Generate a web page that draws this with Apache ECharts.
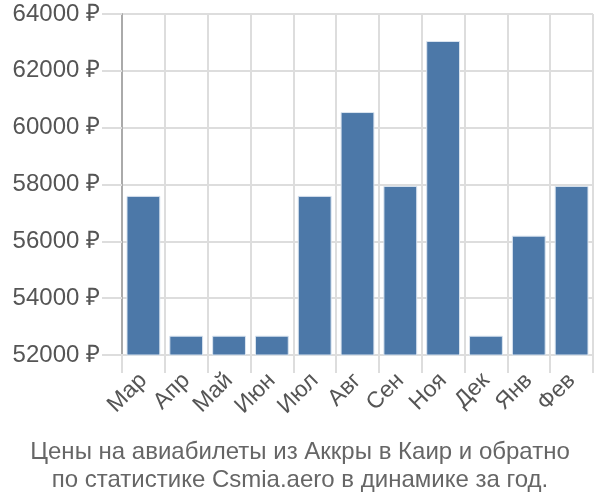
<!DOCTYPE html>
<html><head><meta charset="utf-8">
<script src="https://cdn.jsdelivr.net/npm/echarts@6/dist/echarts.min.js"></script>
<style>html,body{margin:0;padding:0;background:#fff}#c{width:600px;height:500px}</style>
</head><body><div id="c"></div>
<script>
const months = ['Мар','Апр','Май','Июн','Июл','Авг','Сен','Ноя','Дек','Янв','Фев'];
const prices = [57600, 52680, 52680, 52680, 57600, 60550, 57950, 63050, 52680, 56200, 57950];
const yTicks = [52000, 54000, 56000, 58000, 60000, 62000, 64000];
const titleLines = ['Цены на авиабилеты из Аккры в Каир и обратно', 'по статистике Csmia.aero в динамике за год.'];

const chart = echarts.init(document.getElementById('c'), null, {renderer:'canvas'});
chart.setOption({
  animation:false,
  textStyle:{fontFamily:'Liberation Sans, Arial, sans-serif'},
  title:{
    text: titleLines.join('\n'), left:'center', top:433,
    textStyle:{fontSize:24, fontWeight:'normal', color:'#666', lineHeight:28, fontFamily:'Liberation Sans, Arial, sans-serif'}
  },
  grid:{left:122, right:7, top:14, bottom:145, containLabel:false},
  xAxis:{
    type:'category', data:months, boundaryGap:true,
    axisLine:{show:true, lineStyle:{color:'#ddd', width:2}},
    axisTick:{show:true, length:18, lineStyle:{color:'#ddd', width:2}},
    splitLine:{show:true, lineStyle:{color:'#ddd', width:2}},
    axisLabel:{rotate:45, fontSize:23, color:'#555', margin:22, interval:0}
  },
  yAxis:{
    type:'value', min:yTicks[0], max:yTicks[yTicks.length-1], interval:2000,
    axisLine:{show:true, lineStyle:{color:'#aaa', width:2}},
    axisTick:{show:true, length:20, lineStyle:{color:'#ddd', width:2}},
    splitLine:{show:true, lineStyle:{color:'#ddd', width:2}},
    axisLabel:{formatter:function(v){return v + ' ₽';}, fontSize:24, color:'#555', margin:22}
  },
  series:[{
    type:'bar', data:prices, barCategoryGap:'21%',
    itemStyle:{color:'#4c78a8', borderColor:'#dbe5f0', borderWidth:1}
  }]
});
</script></body></html>
